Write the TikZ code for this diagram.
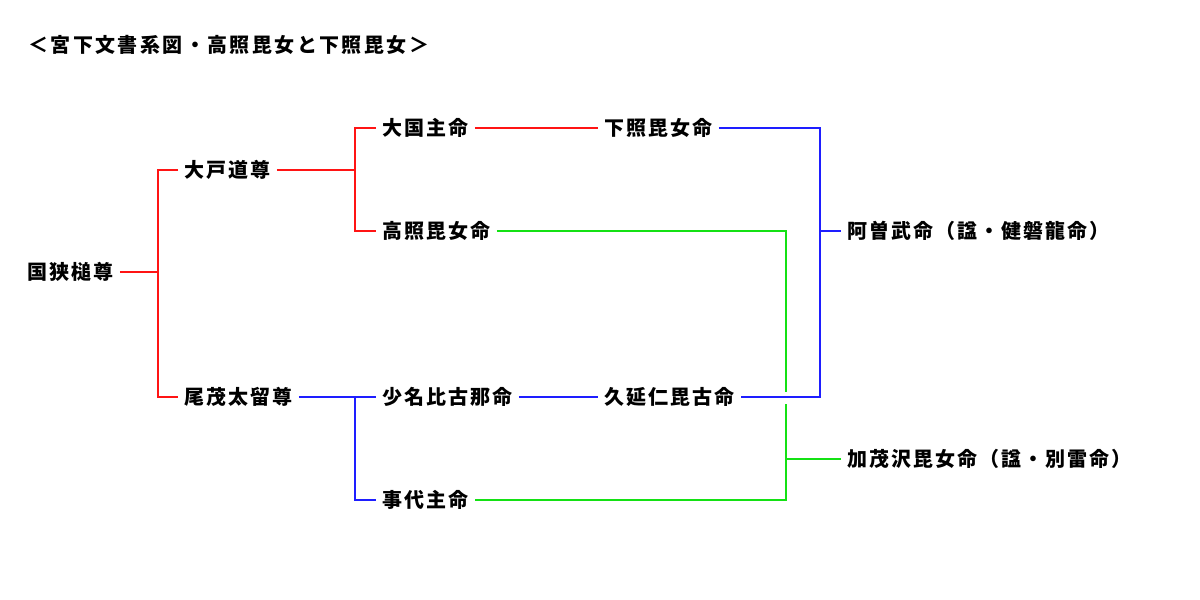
\documentclass[tikz,border=0pt]{standalone}
\usepackage{fontspec}
\setmainfont{Noto Sans CJK JP}
\newfontfamily\jpn[LetterSpace=10]{Noto Sans CJK JP}
\newfontfamily\jpt[LetterSpace=12]{Noto Sans CJK JP}
\definecolor{lred}{RGB}{255,20,20}
\definecolor{lblue}{RGB}{30,30,255}
\definecolor{lgreen}{RGB}{20,225,20}
\begin{document}
\begin{tikzpicture}[x=0.5pt,y=-0.5pt,
  nm/.style={anchor=west,inner xsep=3pt,inner ysep=2pt,font=\jpn\fontsize{10}{12}\selectfont\bfseries},
  ttl/.style={anchor=west,inner xsep=3pt,inner ysep=2pt,font=\jpt\fontsize{10}{12}\selectfont\bfseries},
  ln/.style={line width=1pt}]
\useasboundingbox (0,0) rectangle (1200,600);
\node[ttl] (t) at (22,45) {＜宮下文書系図・高照毘女と下照毘女＞};
\node[nm] (a) at (21,272) {国狭槌尊};
\node[nm] (b) at (178,170) {大戸道尊};
\node[nm] (c) at (178,397) {尾茂太留尊};
\node[nm] (d) at (376,128) {大国主命};
\node[nm] (e) at (376,231) {高照毘女命};
\node[nm] (f) at (376,397) {少名比古那命};
\node[nm] (g) at (376,500) {事代主命};
\node[nm] (h) at (598,128) {下照毘女命};
\node[nm] (i) at (598,397) {久延仁毘古命};
\node[nm] (j) at (841,231) {阿曽武命（諡・健磐龍命）};
\node[nm] (k) at (841,459) {加茂沢毘女命（諡・別雷命）};
% junction coordinates
\coordinate (ra) at (158,272);
\coordinate (rb) at (355,170);
\coordinate (bc) at (355,397);
\coordinate (bh) at (820,397);
\coordinate (bj) at (820,231);
\coordinate (g1) at (786,392);
\coordinate (g2) at (786,404);
\coordinate (gk) at (786,459);
% red
\draw[ln,lred] (a.east) -- (ra);
\draw[ln,lred] (b.west) -| (ra) |- (c.west);
\draw[ln,lred] (b.east) -- (rb);
\draw[ln,lred] (d.west) -| (rb) |- (e.west);
\draw[ln,lred] (d.east) -- (h.west);
% blue
\draw[ln,lblue] (c.east) -- (f.west);
\draw[ln,lblue] (bc) |- (g.west);
\draw[ln,lblue] (f.east) -- (i.west);
\draw[ln,lblue] (h.east) -| (bh) -- (i.east);
\draw[ln,lblue] (bj) -- (j.west);
% green
\draw[ln,lgreen] (e.east) -| (g1);
\draw[ln,lgreen] (g2) |- (g.east);
\draw[ln,lgreen] (gk) -- (k.west);
\end{tikzpicture}
\end{document}
